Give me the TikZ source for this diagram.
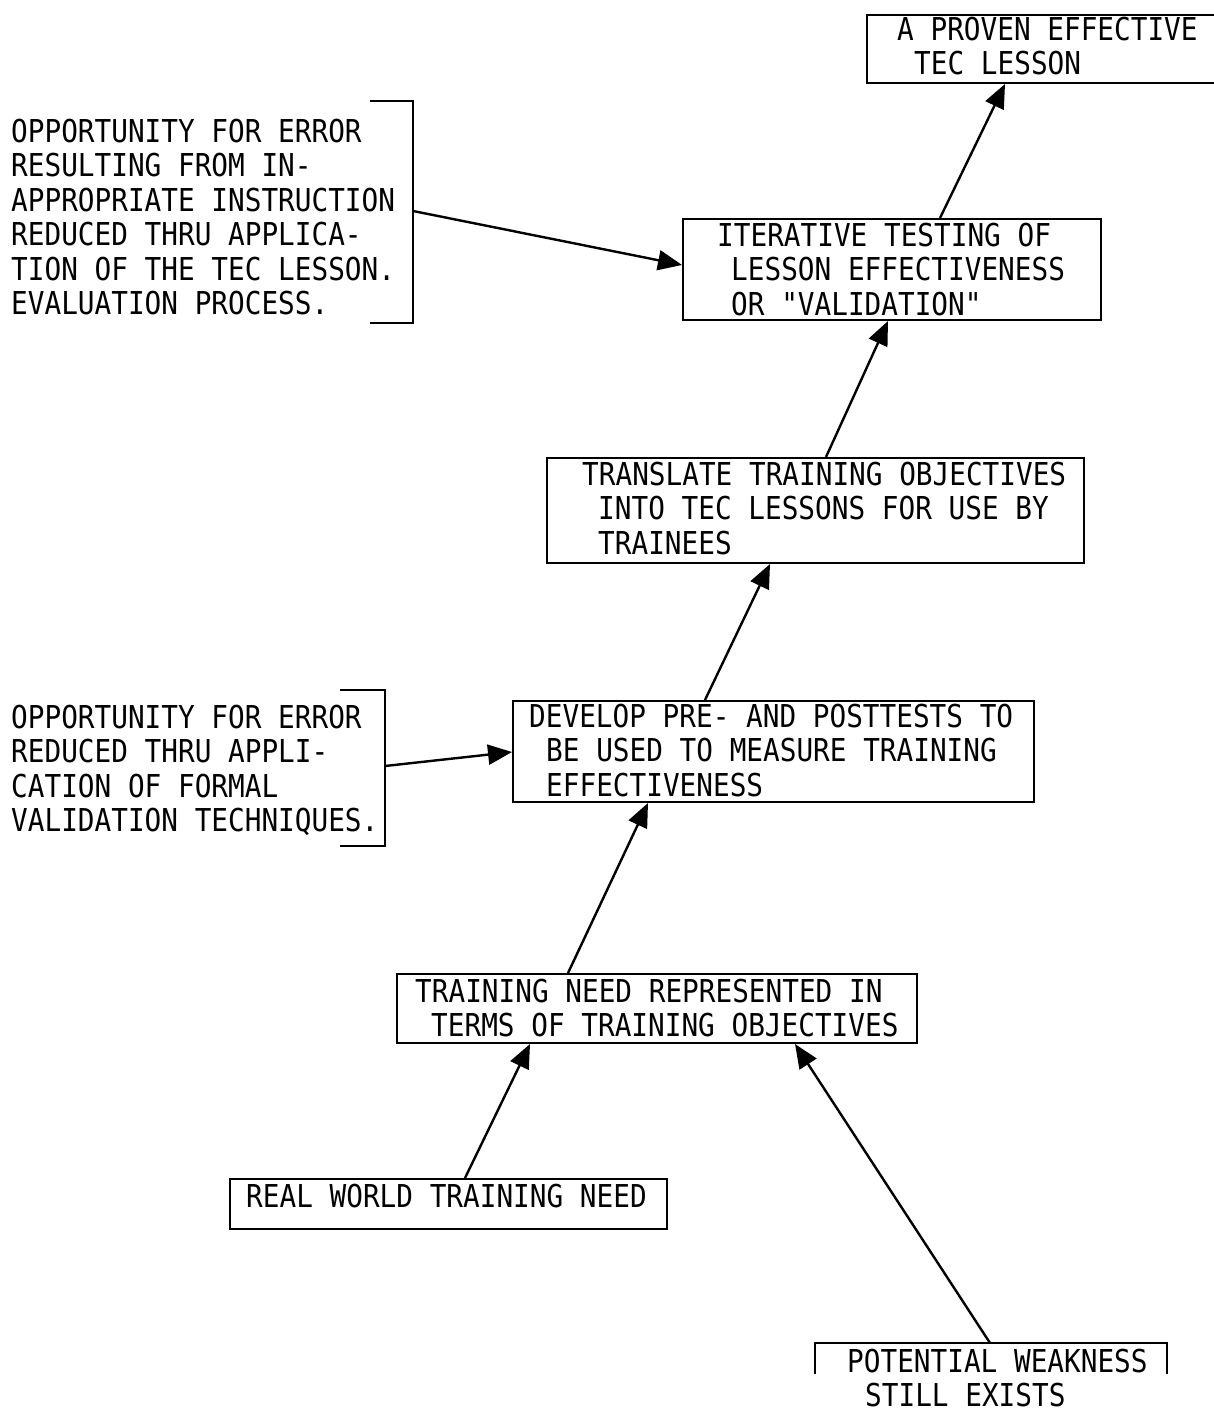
\documentclass[tikz,border=0pt]{standalone}
\usepackage{fontspec}
\newfontfamily\tw[FakeStretch=0.88]{DejaVu Sans Mono}
\usetikzlibrary{arrows.meta,calc}
\begin{document}
\begin{tikzpicture}[x=1pt,y=-1pt,
  box/.style={draw, line width=2pt, inner sep=0pt, anchor=north west},
  ghost/.style={inner sep=0pt, anchor=north west},
  tx/.style={anchor=north west, inner sep=0pt, align=left, font=\tw\fontsize{31.5}{34.4}\selectfont},
  arr/.style={line width=2.4pt, -{Triangle[length=24pt,width=20pt]}},
  brk/.style={line width=2pt},
]
\useasboundingbox (0,0) rectangle (1214,1415);

% boxes
\node[box, minimum width=360, minimum height=68] (b1) at (866,14) {};
\node[box, minimum width=418, minimum height=101] (b2) at (682,218) {};
\node[box, minimum width=537, minimum height=105] (b3) at (546,457) {};
\node[box, minimum width=521, minimum height=101] (b4) at (512,700) {};
\node[box, minimum width=520, minimum height=69] (b5) at (396,973) {};
\node[box, minimum width=437, minimum height=50] (b6) at (229,1178) {};
\node[ghost, minimum width=352, minimum height=31] (b7) at (815,1343) {};
\draw[brk] (b7.south west) -- (b7.north west) -- (b7.north east) -- (b7.south east);

% texts
\node[tx] (t1) at (897,17) {A PROVEN EFFECTIVE\\\hspace*{17pt}TEC LESSON};
\node[tx] (t2) at (717,223) {ITERATIVE TESTING OF\\\hspace*{14pt}LESSON EFFECTIVENESS\\\hspace*{14pt}OR "VALIDATION"};
\node[tx] (t3) at (582,462) {TRANSLATE TRAINING OBJECTIVES\\\hspace*{16pt}INTO TEC LESSONS FOR USE BY\\\hspace*{16pt}TRAINEES};
\node[tx] (t4) at (529,704) {DEVELOP PRE- AND POSTTESTS TO\\\hspace*{17pt}BE USED TO MEASURE TRAINING\\\hspace*{17pt}EFFECTIVENESS};
\node[tx] (t5) at (415,979) {TRAINING NEED REPRESENTED IN\\\hspace*{16pt}TERMS OF TRAINING OBJECTIVES};
\node[tx] (t6) at (246,1184) {REAL WORLD TRAINING NEED};
\node[tx] (t7) at (847,1349) {POTENTIAL WEAKNESS\\\hspace*{18pt}STILL EXISTS};

% left notes
\node[tx] (n1) at (11,119) {OPPORTUNITY FOR ERROR\\RESULTING FROM IN-\\APPROPRIATE INSTRUCTION\\REDUCED THRU APPLICA-\\TION OF THE TEC LESSON.\\EVALUATION PROCESS.};
\node[tx] (n2) at (11,705) {OPPORTUNITY FOR ERROR\\REDUCED THRU APPLI-\\CATION OF FORMAL\\VALIDATION TECHNIQUES.};

% brackets
\draw[brk] (370,101) -- (413,101) -- (413,323) -- (370,323);
\draw[brk] (340,690) -- (385,690) -- (385,846) -- (340,846);
\coordinate (k1) at (413,211);
\coordinate (k2) at (385,766);

% connectors
\draw[arr] (k1) -- ($(b2.north west)+(0,47)$);
\draw[arr] (k2) -- ($(b4.north west)+(0,52)$);
\draw[arr] ($(b2.north west)+(258,0)$) -- ($(b1.south west)+(139,0)$);
\draw[arr] ($(b3.north west)+(280,0)$) -- ($(b2.south west)+(206,0)$);
\draw[arr] ($(b4.north west)+(193,0)$) -- ($(b3.south west)+(224,0)$);
\draw[arr] ($(b5.north west)+(172,0)$) -- ($(b4.south west)+(136,0)$);
\draw[arr] ($(b6.north west)+(236,0)$) -- ($(b5.south west)+(134,0)$);
\draw[arr] ($(b7.north west)+(175,0)$) -- ($(b5.south west)+(399,0)$);
\end{tikzpicture}
\end{document}
